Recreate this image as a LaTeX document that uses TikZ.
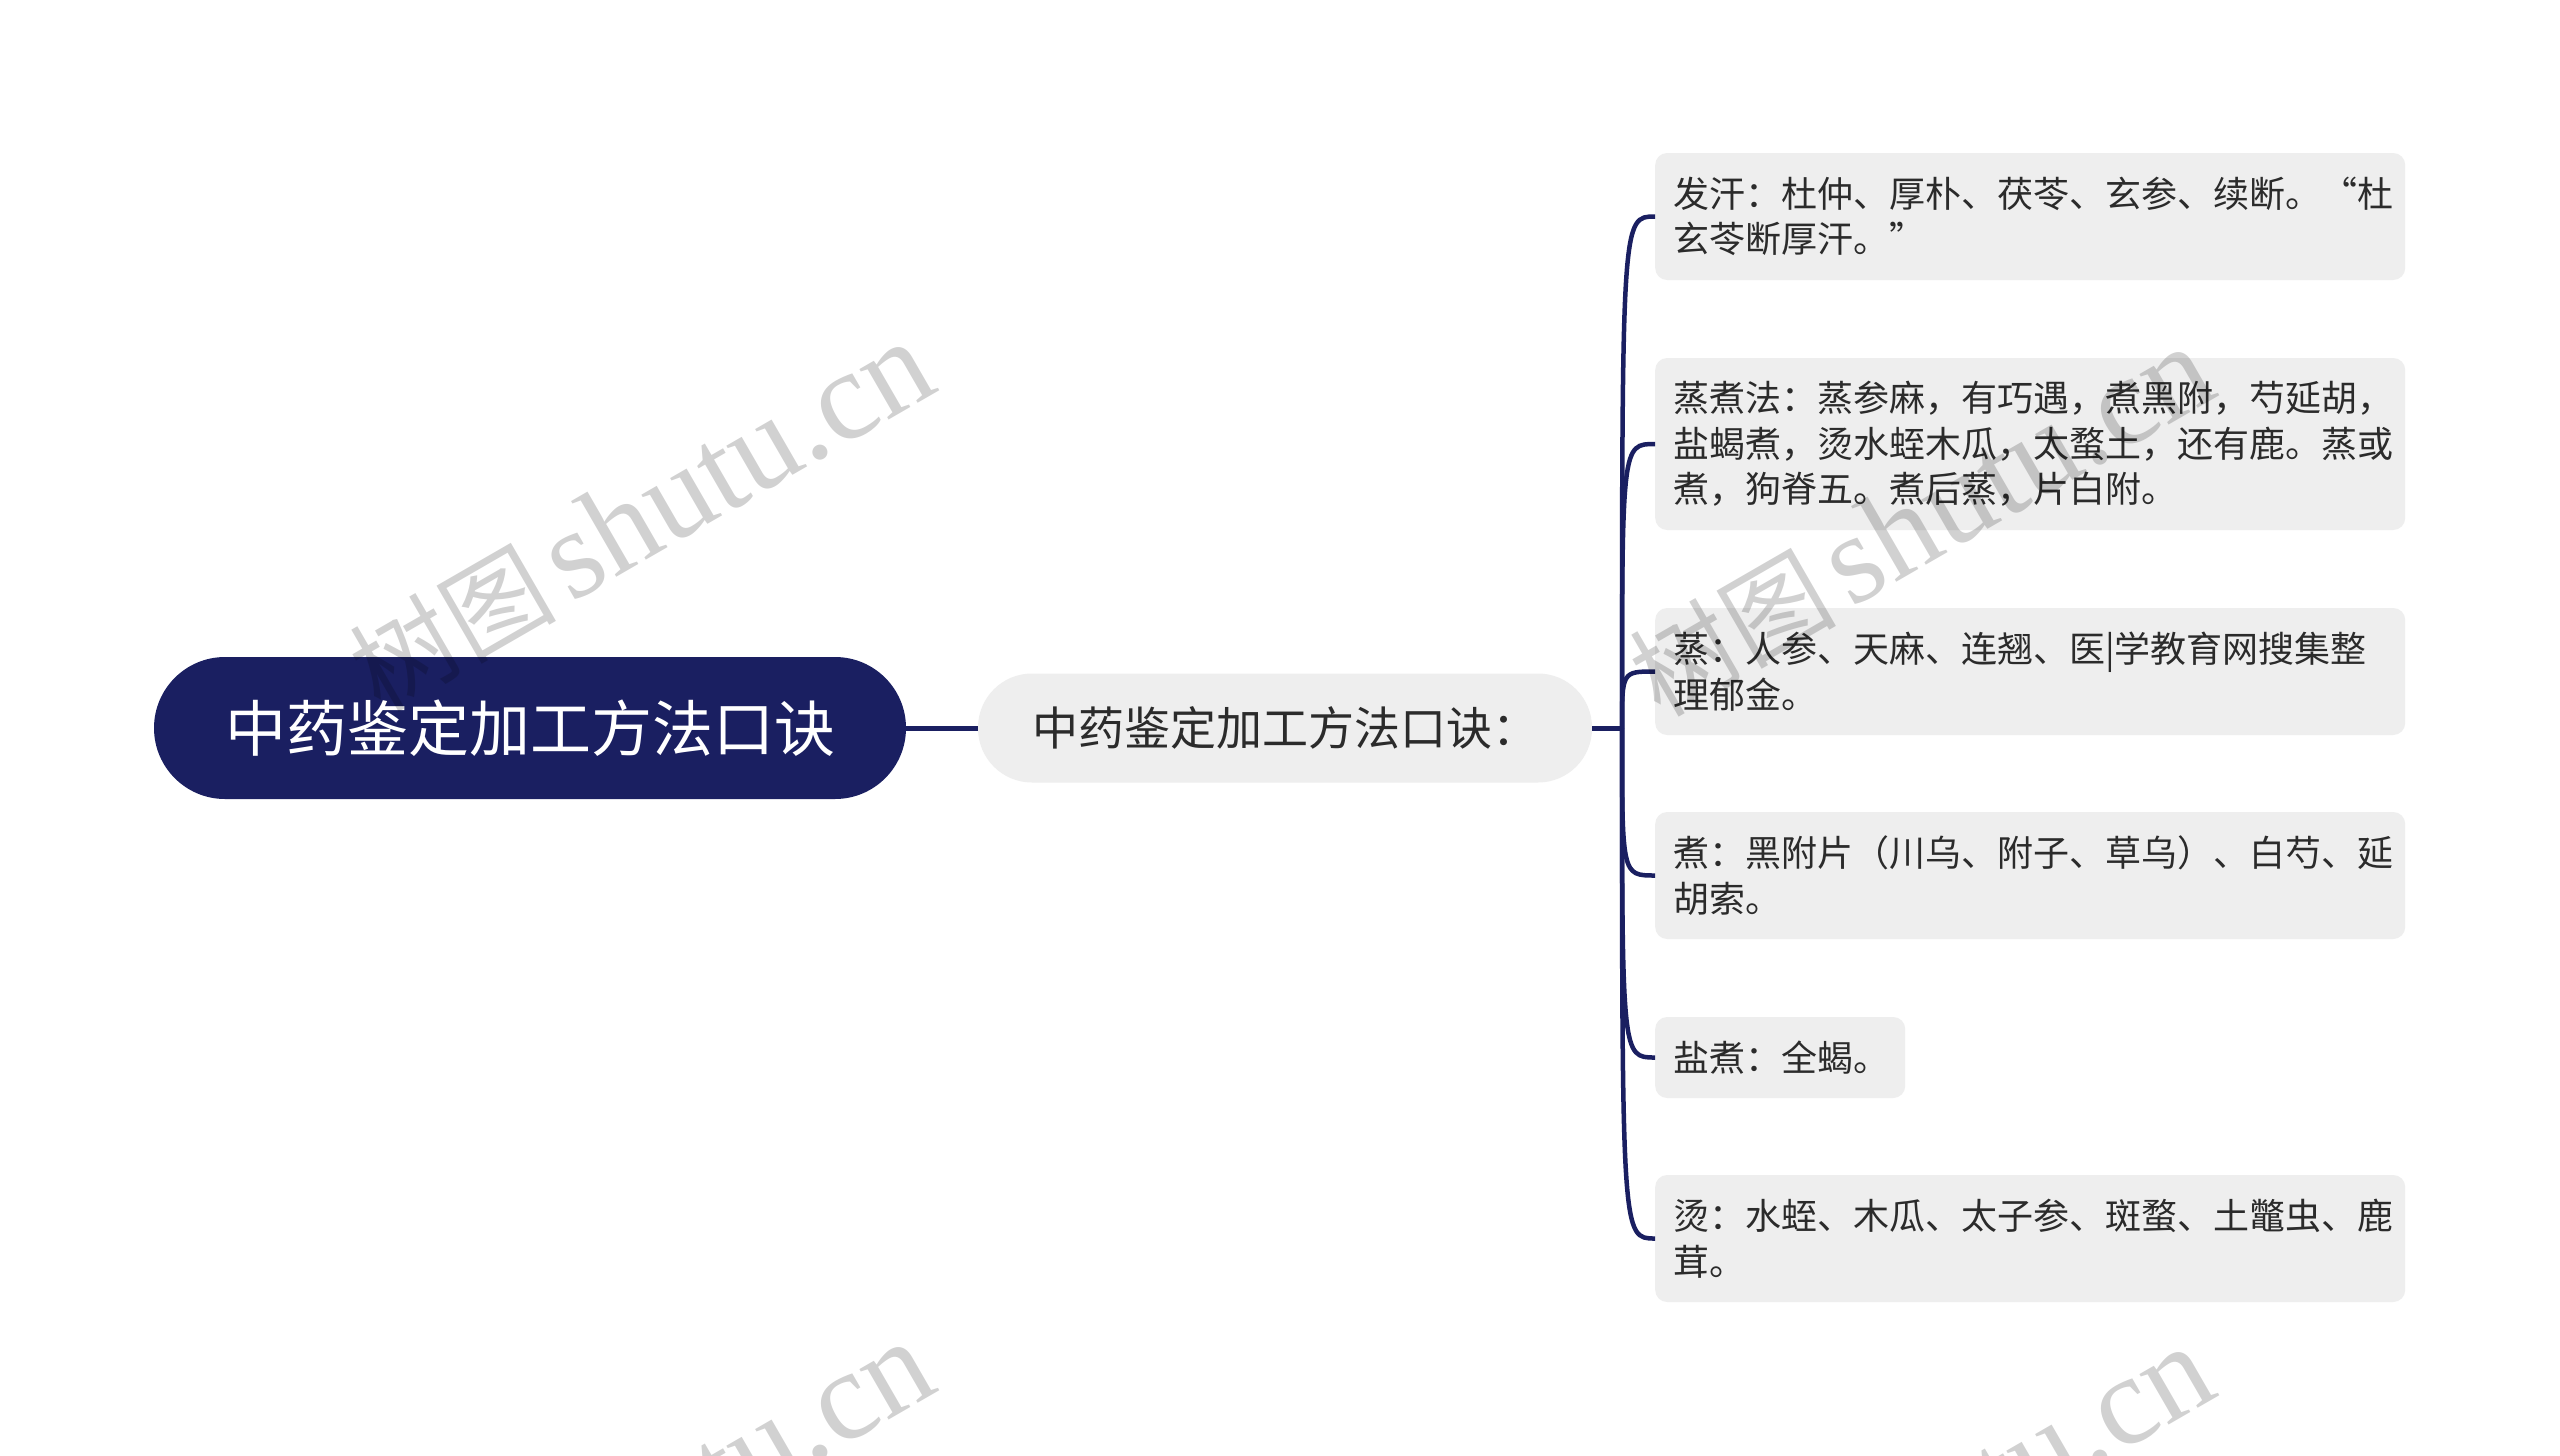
\documentclass[tikz,border=0pt]{standalone}
\usepackage{fontspec}
\setmainfont{Noto Sans CJK SC}
\newfontfamily\cjkfont{Noto Sans CJK SC}
\newfontfamily\wmserif{Liberation Serif}
\definecolor{navy}{HTML}{1A1F61}
\definecolor{boxgray}{HTML}{EEEEEE}
\definecolor{txt}{HTML}{2B2B2B}
\tikzset{
  rootbox/.style={fill=navy, rounded corners=71pt, minimum width=752pt, minimum height=142pt,
    inner sep=0pt, text=white, font=\fontsize{61pt}{72pt}\selectfont},
  midbox/.style={fill=boxgray, rounded corners=54pt, minimum width=614pt, minimum height=109pt,
    inner sep=0pt, text=txt, font=\fontsize{46pt}{56pt}\selectfont},
  leafbox/.style={fill=boxgray, rounded corners=12pt, anchor=west, minimum width=750pt,
    text width=714pt, inner xsep=18pt, inner ysep=0pt, align=left, text=txt,
    font=\fontsize{36pt}{45.5pt}\selectfont},
  link/.style={draw=navy, line width=4.5pt},
  wmark/.style={rotate=30, text=black, text opacity=0.18, inner sep=0pt}
}
\begin{document}
\begin{tikzpicture}[x=1pt, y=-1pt]
\fill[white] (0,0) rectangle (2560,1456);
\useasboundingbox (0,0) rectangle (2560,1456);

\node[rootbox] (root) at (530,728) {中药鉴定加工方法口诀};
\node[midbox] (mid) at (1285,728) {中药鉴定加工方法口诀：};
\coordinate (trunk) at (1622,728);

\node[leafbox, minimum height=127pt] (l1) at (1655,216.5) {发汗：杜仲、厚朴、茯苓、玄参、续断。“杜\\玄苓断厚汗。”};
\node[leafbox, minimum height=172pt] (l2) at (1655,444) {蒸煮法：蒸参麻，有巧遇，煮黑附，芍延胡，\\盐蝎煮，烫水蛭木瓜，太蝥土，还有鹿。蒸或\\煮，狗脊五。煮后蒸，片白附。};
\node[leafbox, minimum height=127pt] (l3) at (1655,671.5) {蒸：人参、天麻、连翘、医|学教育网搜集整\\理郁金。};
\node[leafbox, minimum height=127pt] (l4) at (1655,875.5) {煮：黑附片（川乌、附子、草乌）、白芍、延\\胡索。};
\node[leafbox, minimum height=81pt, minimum width=250pt, text width=214pt] (l5) at (1655,1057.5) {盐煮：全蝎。};
\node[leafbox, minimum height=127pt] (l6) at (1655,1238.5) {烫：水蛭、木瓜、太子参、斑蝥、土鼈虫、鹿\\茸。};

\draw[link, line width=5pt] (root.east) -- (mid.west);
\draw[link, line width=5pt] (mid.east) -- (trunk);
\foreach \n in {l1,l2,l3,l4,l5,l6}
  \draw[link] (trunk) .. controls (trunk |- \n.west) and (trunk |- \n.west) .. (\n.west);

\begin{scope}
\clip (0,0) rectangle (2560,1456);
\foreach \x/\y in {641/517, 1921/522, 641/1517, 1921/1522}
  \node[wmark] at (\x,\y) {\fontsize{103pt}{110pt}\cjkfont 树图\hspace{14pt}\fontsize{127pt}{130pt}\wmserif shutu.cn};
\end{scope}
\end{tikzpicture}
\end{document}
